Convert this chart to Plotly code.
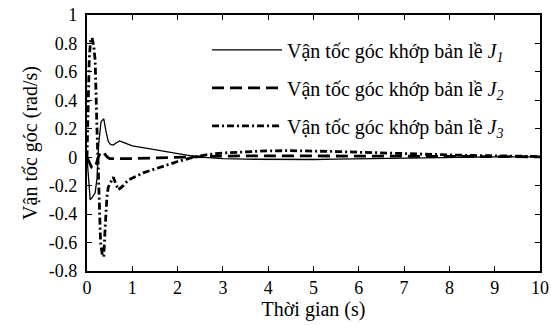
import plotly.graph_objects as go

# Joint angular velocity responses (rad/s) over time (s)
t1 = [0, 0.03, 0.07, 0.12, 0.18, 0.22, 0.26, 0.31, 0.37, 0.42, 0.47, 0.52, 0.58, 0.64, 0.72, 0.8, 0.9, 1.0,
      1.2, 1.4, 1.6, 1.8, 2.0, 2.2, 2.5, 3.0, 3.5, 4.0, 4.5, 5.0, 5.5, 6.0, 6.5, 7.0, 8.0, 9.0, 10.0]
v1 = [0, -0.15, -0.30, -0.28, -0.25, -0.15, 0.1, 0.25, 0.27, 0.18, 0.11, 0.09, 0.085, 0.1, 0.115, 0.105, 0.09, 0.08,
      0.07, 0.058, 0.047, 0.036, 0.025, 0.014, 0.0, -0.01, -0.014, -0.016, -0.017, -0.016, -0.014, -0.011, -0.008,
      -0.005, 0.0, 0.002, 0.002]

t2 = [0, 0.05, 0.1, 0.15, 0.2, 0.25, 0.3, 0.35, 0.4, 0.45, 0.5, 0.7, 1.0, 1.5, 2.0, 2.5, 3.0, 4.0, 5.0, 6.0,
      7.0, 8.0, 9.0, 10.0]
v2 = [0, -0.04, -0.07, -0.08, -0.05, 0.0, 0.035, 0.04, 0.02, 0.0, -0.01, -0.012, -0.01, -0.005, 0.0, 0.005,
      0.008, 0.01, 0.01, 0.01, 0.008, 0.006, 0.004, 0.003]

t3 = [0, 0.02, 0.05, 0.08, 0.11, 0.15, 0.18, 0.22, 0.26, 0.3, 0.34, 0.37, 0.4, 0.44, 0.47, 0.53, 0.58, 0.64,
      0.69, 0.8, 0.91, 1.24, 1.62, 2.0, 2.35, 2.7, 3.0, 3.5, 4.0, 4.5, 5.0, 5.5, 6.0, 6.5, 7.0, 7.5, 8.0, 8.5,
      9.0, 9.5, 10.0]
v3 = [0, 0.3, 0.7, 0.82, 0.84, 0.78, 0.68, 0.2, -0.3, -0.6, -0.69, -0.70, -0.5, -0.28, -0.21, -0.17, -0.14,
      -0.19, -0.23, -0.2, -0.16, -0.11, -0.07, -0.03, 0.0, 0.02, 0.03, 0.04, 0.045, 0.046, 0.045, 0.04, 0.035,
      0.03, 0.025, 0.02, 0.015, 0.012, 0.01, 0.007, 0.005]

names = ["Vận tốc góc khớp bản lề <i>J<sub>1</sub></i>",
         "Vận tốc góc khớp bản lề <i>J<sub>2</sub></i>",
         "Vận tốc góc khớp bản lề <i>J<sub>3</sub></i>"]

x_ticks = list(range(0, 11))
y_ticks = [1, 0.8, 0.6, 0.4, 0.2, 0, -0.2, -0.4, -0.6, -0.8]
y_tick_text = ["1", "0.8", "0.6", "0.4", "0.2", "0", "-0.2", "-0.4", "-0.6", "-0.8"]

FONT = "Liberation Serif"

fig = go.Figure()
fig.add_trace(go.Scatter(x=t1, y=v1, mode="lines", name=names[0], legendgroup="a",
                         line=dict(color="black", width=1.3, dash="solid")))
fig.add_trace(go.Scatter(x=t2, y=v2, mode="lines", name=names[1], legendgroup="b",
                         line=dict(color="black", width=2.8, dash="12px,6px")))
fig.add_trace(go.Scatter(x=t3, y=v3, mode="lines", name=names[2], legendgroup="c",
                         line=dict(color="black", width=2.8, dash="7px,3px,2px,3px")))

axis_common = dict(showline=True, linecolor="black", linewidth=1.5, mirror="ticks",
                   ticks="inside", ticklen=5, tickcolor="black", tickwidth=1,
                   showgrid=False, zeroline=False, automargin=False,
                   tickfont=dict(family=FONT, size=18, color="black"))

fig.update_xaxes(range=[0, 10], tickvals=x_ticks,
                 title=dict(text="Thời gian (s)", font=dict(family=FONT, size=20, color="black"), standoff=4),
                 **axis_common)
# a non-breaking space after each label keeps the numbers a little further from the frame
fig.update_yaxes(range=[-0.8, 1], tickvals=y_ticks, ticktext=[s + "\u00a0" for s in y_tick_text],
                 title=dict(text="Vận tốc góc (rad/s)", font=dict(family=FONT, size=20, color="black"), standoff=6),
                 **axis_common)

fig.update_layout(
    width=551, height=326,
    margin=dict(l=87, r=11, t=15, b=55),
    paper_bgcolor="white", plot_bgcolor="white",
    showlegend=True,
    legend=dict(x=0.265, y=0.94, xanchor="left", yanchor="top",
                bgcolor="rgba(0,0,0,0)", itemwidth=70, tracegroupgap=9,
                font=dict(family=FONT, size=20, color="black")),
)

fig.write_html("out.html")
